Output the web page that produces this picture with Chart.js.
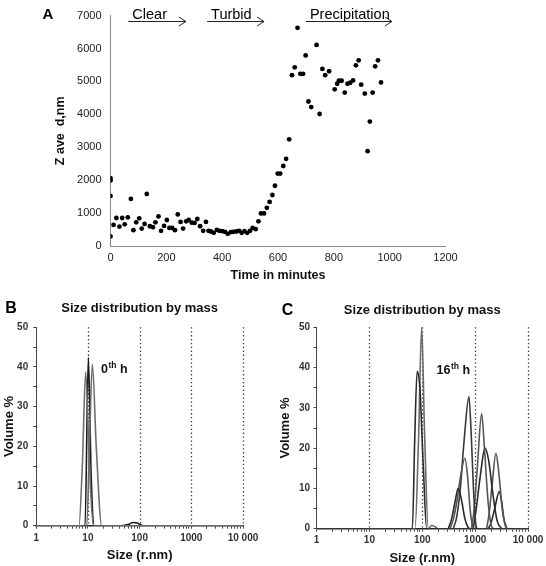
<!DOCTYPE html>
<html><head><meta charset="utf-8">
<script src="https://cdn.jsdelivr.net/npm/chart.js@4.4.1/dist/chart.umd.min.js"></script>
<style>
html,body{margin:0;padding:0;background:#fff;}
#wrap{position:relative;width:546px;height:566px;overflow:hidden;background:#fff;}
canvas{position:absolute;display:block;}
</style></head><body>
<div id="wrap">
<canvas id="cA" width="546" height="290" style="left:0;top:0"></canvas>
<canvas id="cB" width="273" height="276" style="left:0;top:290px"></canvas>
<canvas id="cC" width="273" height="276" style="left:273px;top:290px"></canvas>
</div>
<script>
// ---------- Panel A data ----------
const times = [0,0,0,0,11,21,32,42,51,62,73,82,92,103,112,122,130,141,152,161,172,181,192,202,211,221,231,241,251,260,271,280,291,301,311,321,332,342,351,360,370,381,390,400,410,420,431,440,451,461,470,480,490,500,509,520,530,539,550,560,570,580,589,599,608,619,629,640,650,660,670,680,690,699,709,719,738,749,759,769,783,803,812,818,828,839,849,859,869,879,889,898,911,921,929,939,948,958,969];
const zave = [290,1520,1990,2060,640,850,590,850,660,870,1430,480,720,840,530,670,1580,600,570,720,900,460,610,790,550,550,480,960,730,530,750,790,710,700,820,600,460,730,460,440,400,490,460,450,430,370,420,430,440,460,400,450,400,460,550,510,750,990,990,1160,1340,1550,1830,2200,2200,2430,2650,3240,5190,5430,6630,5230,5230,5790,4390,4220,6110,4010,5380,5190,5310,4760,4930,5020,5020,4660,4930,4960,5030,5490,5640,4900,4630,2880,3780,4660,5460,5640,4970];
const timeTicks = [0,200,400,600,800,1000,1200];
const zTicks = [0,1000,2000,3000,4000,5000,6000,7000];
const phaseLabels = ['Clear','Turbid','Precipitation'];
const phaseFrom = [64,346,700];
const phaseTo = [270,550,1008];
const arrowLevel = 6830;

// ---------- Panel B data (0th h) ----------
const b1Size = [1,6.7,7.8,9.06,10.5,12.7,10000];
const b1Vol  = [0,0,15,38.8,18,0,0];
const b2Size = [1,8.8,10.2,11.6,13.3,45,60,75,90,105,120,10000];
const b2Vol  = [0,0,42.4,12,0,0,0.3,0.8,0.7,0.2,0,0];
const b3Size = [1,9.5,10.8,12.2,14.5,18.5,10000];
const b3Vol  = [0,0,22,40.7,20,0,0];

// ---------- Panel C data (16th h) ----------
const c1Size = [1,65,72,80,90,105,121,10000];
const c1Vol  = [0,0,22,39.1,35,15,0,0];
const c2Size = [1,73,85,97.5,110,130,150,175,200,10000];
const c2Vol  = [0,0,22,50,25,0,0.8,0.5,0,0];
const c3Size = [311,360,415,480,555,640,740,795];
const c3Vol  = [0,2.5,6.5,10,7,2.5,0.3,0];
const c4Size = [334,390,455,530,641,720,800,880,922];
const c4Vol  = [0,2.5,7,13,17.5,13,5,1,0];
const c5Size = [386,450,525,620,764,840,930,1010,1070];
const c5Vol  = [0,3,10,22,32.8,24,10,2,0];
const c6Size = [858,960,1100,1327,1500,1750,2000,2200];
const c6Vol  = [0,5,15,28.6,20,7,1,0];
const c7Size = [922,1050,1250,1532,1800,2150,2600,3170];
const c7Vol  = [0,5,13,20,17,9,2,0];
const c8Size = [1650,1850,2100,2473,2800,3250,3700,3980];
const c8Vol  = [0,4,11,18.7,14,5,0.8,0];
const c9Size = [1770,2000,2350,2857,3150,3500,3980];
const c9Vol  = [0,1.5,5,9.2,7,2.5,0];

const decades = [1,10,100,1000,10000];
const decadeLabels = ['1','10','100','1000','10 000'];
const minorMult = [1,2,3,4,5,6,7,8,9];
const gridDecades = [10,100,1000,10000];
const volTicks = [0,5,10,15,20,25,30,35,40,45,50];

const FONT = "'Liberation Sans', Arial, Helvetica, sans-serif";
Chart.defaults.font.family = FONT;
Chart.defaults.color = '#222';
Chart.defaults.animation = false;

const pts = (xs, ys) => xs.map((x,i)=>({x:x, y:ys[i]}));

// ---------- plugins ----------
const letterPlugin = {
  id:'letter',
  afterDraw(chart, args, o){
    const ctx = chart.ctx; ctx.save();
    ctx.font = 'bold ' + o.size + 'px ' + FONT;
    ctx.fillStyle = '#000'; ctx.textAlign = 'center'; ctx.textBaseline = 'middle';
    ctx.fillText(o.text, o.x, o.y);
    ctx.restore();
  }
};
const phasePlugin = {
  id:'phases',
  afterDraw(chart){
    const {ctx, scales:{x, y}} = chart;
    ctx.save();
    ctx.strokeStyle = '#222'; ctx.lineWidth = 1; ctx.fillStyle = '#000';
    ctx.font = '14.5px ' + FONT; ctx.textBaseline = 'alphabetic'; ctx.textAlign = 'left';
    const py = Math.round(y.getPixelForValue(arrowLevel)) + 0.5;
    phaseLabels.forEach((lab, i) => {
      const x1 = x.getPixelForValue(phaseFrom[i]);
      const x2 = x.getPixelForValue(phaseTo[i]);
      ctx.beginPath(); ctx.moveTo(x1, py); ctx.lineTo(x2, py);
      ctx.moveTo(x2 - 7, py - 4.5); ctx.lineTo(x2, py); ctx.lineTo(x2 - 7, py + 4.5);
      ctx.stroke();
      ctx.fillText(lab, x1 + 4, py - 3);
    });
    ctx.restore();
  }
};
const decadePlugin = {
  id:'decadeLines',
  beforeDatasetsDraw(chart){
    const {ctx, chartArea, scales:{x}} = chart;
    ctx.save();
    ctx.strokeStyle = '#333'; ctx.lineWidth = 1.3; ctx.setLineDash([1.3, 2.6]);
    gridDecades.forEach(v => {
      const px = Math.round(x.getPixelForValue(v)) + 0.5;
      ctx.beginPath(); ctx.moveTo(px, chartArea.top); ctx.lineTo(px, chartArea.bottom); ctx.stroke();
    });
    ctx.restore();
  }
};
const peakLabelPlugin = {
  id:'peakLabel',
  afterDatasetsDraw(chart, args, o){
    const {ctx, scales:{x, y}} = chart;
    ctx.save();
    ctx.fillStyle = '#111'; ctx.textBaseline = 'alphabetic'; ctx.textAlign = 'left';
    let px = x.getPixelForValue(o.x);
    const py = y.getPixelForValue(o.y);
    ctx.font = 'bold 12.5px ' + FONT;
    ctx.fillText(o.base, px, py); px += ctx.measureText(o.base).width;
    ctx.font = 'bold 8.5px ' + FONT;
    ctx.fillText(o.sup, px + 0.5, py - 5); px += ctx.measureText(o.sup).width + 0.5;
    ctx.font = 'bold 12.5px ' + FONT;
    ctx.fillText(' ' + o.tail, px, py);
    ctx.restore();
  }
};

// ---------- Panel A ----------
new Chart(document.getElementById('cA'), {
  type:'scatter',
  data:{datasets:[{data:pts(times, zave), pointRadius:2.4, pointHoverRadius:2.4,
    pointBackgroundColor:'#000', pointBorderColor:'#000', pointBorderWidth:0, showLine:false}]},
  options:{
    responsive:false, animation:false, events:[],
    layout:{padding:{left:53, right:100.5, top:9.3, bottom:7}},
    plugins:{legend:{display:false}, tooltip:{enabled:false},
      letter:{text:'A', x:48, y:14.5, size:15}},
    scales:{
      x:{type:'linear', min:0, max:1200,
        afterBuildTicks:s=>{s.ticks = timeTicks.map(v=>({value:v}));},
        ticks:{padding:5, font:{size:11}, color:'#222', maxRotation:0, autoSkip:false, callback:v=>String(v)},
        grid:{display:false, drawTicks:false},
        border:{display:true, color:'#8a8a8a', width:1},
        title:{display:true, text:'Time in minutes', font:{size:12.5, weight:'bold'}, color:'#111', padding:0},
        afterFit:s=>{s.height = 37;}},
      y:{min:0, max:7000,
        afterBuildTicks:s=>{s.ticks = zTicks.map(v=>({value:v}));},
        ticks:{padding:9, font:{size:11}, color:'#222', callback:v=>String(v)},
        grid:{display:false, drawTicks:false},
        border:{display:true, color:'#8a8a8a', width:1},
        title:{display:true, text:'Z ave  d,nm', font:{size:12.5, weight:'bold'}, color:'#111', padding:0},
        afterFit:s=>{s.width = 57.5;}}
    }
  },
  plugins:[phasePlugin, letterPlugin]
});

// ---------- shared log-panel builder ----------
const logTickValues = [];
decades.slice(0,4).forEach(d => minorMult.forEach(m => logTickValues.push(d*m)));
logTickValues.push(10000);

function sizeChart(id, datasets, cfg){
  return new Chart(document.getElementById(id), {
    type:'line',
    data:{datasets: datasets.map(d => ({data:pts(d[0], d[1]), borderColor:d[2], borderWidth:1.6,
      pointRadius:0, fill:false, cubicInterpolationMode:'monotone'}))},
    options:{
      responsive:false, animation:false, events:[], parsing:true,
      layout:{padding:cfg.pad},
      plugins:{legend:{display:false}, tooltip:{enabled:false},
        title:{display:true, text:'Size distribution by mass', fullSize:false,
          font:{size:13, weight:'bold'}, color:'#111', padding:cfg.titlePad},
        letter:cfg.letter, peakLabel:cfg.peak},
      scales:{
        x:{type:'logarithmic', min:1, max:10000,
          afterBuildTicks:s=>{s.ticks = logTickValues.map(v=>({value:v}));},
          ticks:{autoSkip:false, maxRotation:0, padding:cfg.xPad, font:{size:10, weight:'bold'}, color:'#333',
            callback:(v)=>{const k = decades.indexOf(v); return k >= 0 ? decadeLabels[k] : '';}},
          grid:{drawOnChartArea:false, drawTicks:true, tickLength:3, tickColor:'#444', tickWidth:1},
          border:{display:true, color:'#222', width:1.6},
          title:{display:true, text:'Size (r.nm)', font:{size:13, weight:'bold'}, color:'#111', padding:0},
          afterFit:s=>{s.height = cfg.xH;}},
        y:{min:0, max:50,
          afterBuildTicks:s=>{s.ticks = volTicks.map(v=>({value:v}));},
          ticks:{autoSkip:false, padding:cfg.yPad, font:{size:10, weight:'bold'}, color:'#333',
            callback:(v)=> v % 10 === 0 ? String(v) : ''},
          grid:{drawOnChartArea:false, drawTicks:true, tickLength:3, tickColor:'#444', tickWidth:1},
          border:{display:true, color:'#444', width:1},
          title:{display:true, text:'Volume %', font:{size:13, weight:'bold'}, color:'#111', padding:0},
          afterFit:s=>{s.width = cfg.yW;}}
      }
    },
    plugins:[decadePlugin, peakLabelPlugin, letterPlugin]
  });
}

// ---------- Panel B ----------
sizeChart('cB', [
  [b1Size, b1Vol, '#6e6e6e'],
  [b3Size, b3Vol, '#6e6e6e'],
  [b2Size, b2Vol, '#1a1a1a']
], {
  pad:{left:1.7, right:30, top:4, bottom:2.5},
  titlePad:{top:7, bottom:10.7},
  xPad:3.1, xH:37.8, yPad:5, yW:34.5,
  letter:{text:'B', x:11, y:19, size:16},
  peak:{x:17.9, y:38.6, base:'0', sup:'th', tail:'h'}
});

// ---------- Panel C ----------
sizeChart('cC', [
  [c1Size, c1Vol, '#2a2a2a'],
  [c2Size, c2Vol, '#6a6a6a'],
  [c3Size, c3Vol, '#2a2a2a'],
  [c4Size, c4Vol, '#555555'],
  [c5Size, c5Vol, '#3a3a3a'],
  [c6Size, c6Vol, '#555555'],
  [c7Size, c7Vol, '#2a2a2a'],
  [c8Size, c8Vol, '#555555'],
  [c9Size, c9Vol, '#2a2a2a']
], {
  pad:{left:4.2, right:18, top:5.9, bottom:0},
  titlePad:{top:7, bottom:8.8},
  xPad:2.4, xH:37.3, yPad:3.5, yW:39.3,
  letter:{text:'C', x:14.5, y:21, size:16},
  peak:{x:187, y:38.3, base:'16', sup:'th', tail:'h'}
});
</script>
</body></html>
